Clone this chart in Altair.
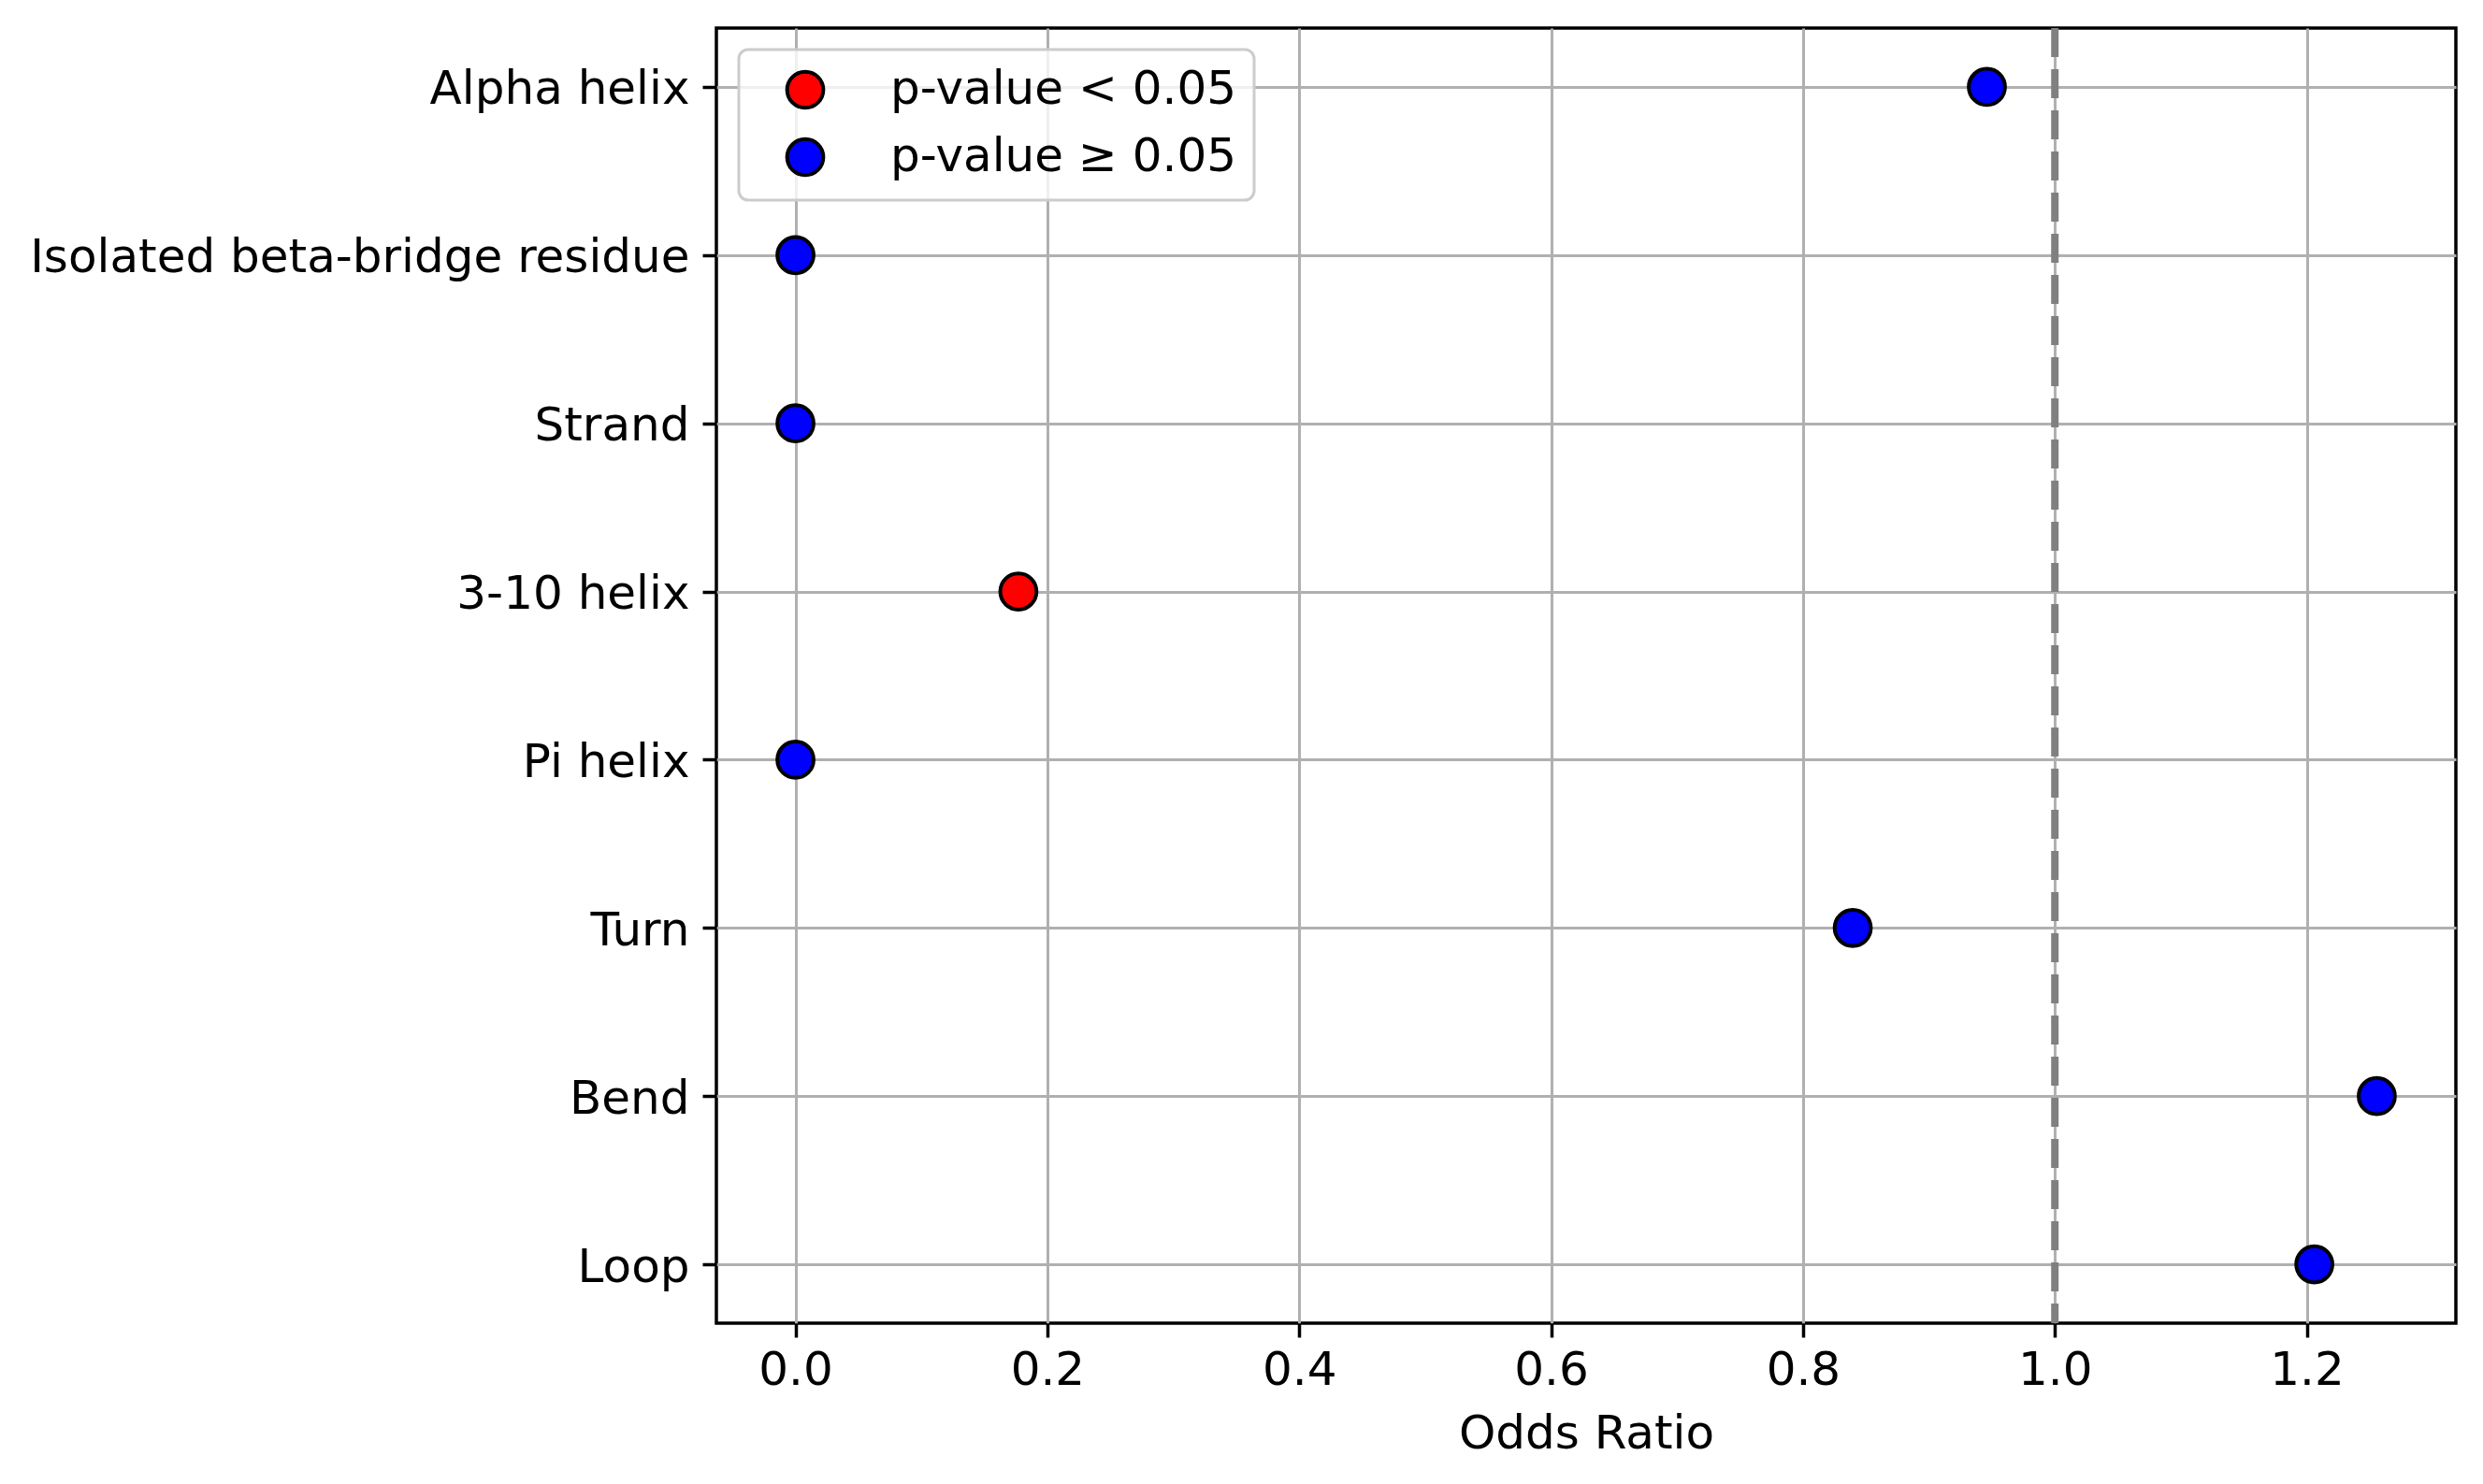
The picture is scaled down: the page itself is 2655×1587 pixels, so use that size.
import altair as alt
import pandas as pd

categories = ["Alpha helix", "Isolated beta-bridge residue", "Strand", "3-10 helix",
              "Pi helix", "Turn", "Bend", "Loop"]
odds_ratios = [0.946, 0.0, 0.0, 0.177, 0.0, 0.8395, 1.2556, 1.206]
significance = ["p-value ≥ 0.05", "p-value ≥ 0.05", "p-value ≥ 0.05", "p-value < 0.05",
                "p-value ≥ 0.05", "p-value ≥ 0.05", "p-value ≥ 0.05", "p-value ≥ 0.05"]
x_ticks = [0.0, 0.2, 0.4, 0.6, 0.8, 1.0, 1.2]
reference_value = [1.0]
legend_labels = ["p-value < 0.05", "p-value ≥ 0.05"]
legend_colors = ["red", "blue"]

df = pd.DataFrame({"category": categories, "odds": odds_ratios, "sig": significance})
ref = pd.DataFrame({"v": reference_value})

FONT = "DejaVu Sans"
FS = 50
MSIZE = 1500

xscale = alt.Scale(domain=[-0.0628, 1.3184], nice=False, zero=False)

points = alt.Chart(df).mark_point(
    filled=True, shape="circle", size=MSIZE, stroke="black", strokeWidth=4, opacity=1
).encode(
    x=alt.X("odds:Q", scale=xscale,
            axis=alt.Axis(title="Odds Ratio", values=x_ticks, format=".1f")),
    y=alt.Y("category:N", sort=categories,
            scale=alt.Scale(type="point", padding=0.35),
            axis=alt.Axis(title=None, labelOffset=3)),
    color=alt.Color("sig:N",
                    scale=alt.Scale(domain=legend_labels, range=legend_colors),
                    legend=alt.Legend(title=None, orient="none", legendX=24, legendY=23,
                                      symbolType="circle", symbolSize=MSIZE,
                                      symbolStrokeColor="black", symbolStrokeWidth=4,
                                      symbolOpacity=1,
                                      labelFont=FONT, labelFontSize=FS, labelColor="black",
                                      labelLimit=0,
                                      fillColor="rgba(255,255,255,0.8)",
                                      strokeColor="#cccccc",
                                      cornerRadius=10, padding=18,
                                      symbolOffset=28, labelOffset=66,
                                      rowPadding=16)),
)

rule = alt.Chart(ref).mark_rule(
    color="#808080", strokeWidth=8, strokeDash=[31, 13]
).encode(x=alt.X("v:Q", scale=xscale))

chart = alt.layer(rule, points).properties(
    width=1860, height=1385,
    autosize=alt.AutoSizeParams(type="none"),
    padding={"left": 758, "top": 22, "right": 21, "bottom": 164},
).configure_view(
    stroke="black", strokeWidth=3.5
).configure_axis(
    domain=False, grid=True, gridColor="#b0b0b0", gridWidth=3,
    tickColor="black", tickWidth=3.5, tickSize=15,
    labelFont=FONT, labelFontSize=FS, labelColor="black", labelLimit=0,
    titleFont=FONT, titleFontSize=FS, titleColor="black", titleFontWeight="normal",
    zindex=1,
).configure_axisX(
    labelPadding=10, titlePadding=18
).configure_axisY(
    labelPadding=14
).configure_legend(
    strokeWidth=3
)

chart.save("out.html", embed_options={"renderer": "svg", "actions": False})
